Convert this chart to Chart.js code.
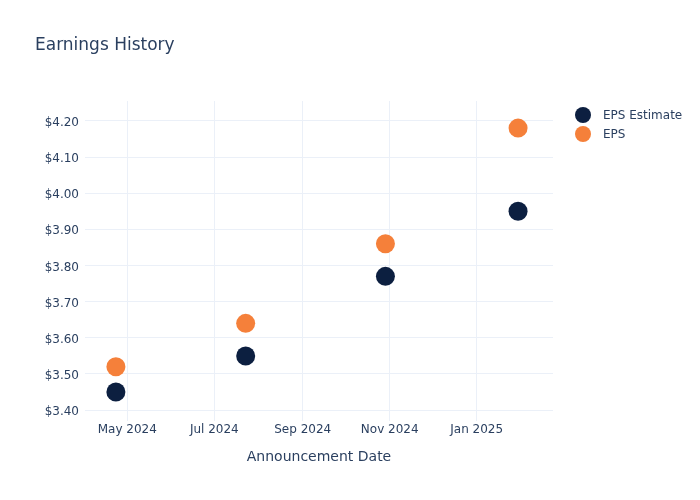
<!DOCTYPE html>
<html>
<head>
<meta charset="utf-8">
<script src="https://cdn.jsdelivr.net/npm/chart.js@4.4.1/dist/chart.umd.min.js"></script>
<style>
    html, body { margin: 0; padding: 0; background: #fff; }
</style>
</head>
<body>
<canvas id="earningsChart" width="700" height="500"></canvas>
<script>
// Chart data
const announceDates = ["2024-04-23", "2024-07-23", "2024-10-29", "2025-01-30"];
const epsEstimate = [3.45, 3.55, 3.77, 3.95];
const epsActual = [3.52, 3.64, 3.86, 4.18];
const seriesNames = ["EPS Estimate", "EPS"];
const xTickDates = ["2024-05-01", "2024-07-01", "2024-09-01", "2024-11-01", "2025-01-01"];
const yTickValues = [3.4, 3.5, 3.6, 3.7, 3.8, 3.9, 4.0, 4.1, 4.2];

const monthNames = ["Jan", "Feb", "Mar", "Apr", "May", "Jun", "Jul", "Aug", "Sep", "Oct", "Nov", "Dec"];
const textColor = "#2a3f5f";
const gridColor = "#ebf0f8";
const colors = ["#0c1f40", "#f5803a"];

const toPoints = (vals) => vals.map((v, i) => ({ x: Date.parse(announceDates[i]), y: v }));

// Format a timestamp like "May 2024"
const fmtMonth = (ts) => {
    const d = new Date(ts);
    return monthNames[d.getUTCMonth()] + " " + d.getUTCFullYear();
};

// Title + legend drawn by hand to sit where the reference puts them
const headerPlugin = {
    id: "header",
    afterDraw(chart) {
        const ctx = chart.ctx;
        ctx.save();
        ctx.fillStyle = textColor;
        ctx.font = "17px 'DejaVu Sans', sans-serif";
        ctx.textBaseline = "middle";
        ctx.textAlign = "left";
        ctx.fillText("Earnings History", 35, 46);

        ctx.font = "12px 'DejaVu Sans', sans-serif";
        seriesNames.forEach((name, i) => {
            const y = 115 + i * 19;
            ctx.beginPath();
            ctx.arc(583, y, 8, 0, Math.PI * 2);
            ctx.fillStyle = colors[i];
            ctx.fill();
            ctx.fillStyle = textColor;
            ctx.fillText(name, 603, y + 1);
        });
        ctx.restore();
    },
};

Chart.defaults.font.family = "'DejaVu Sans', sans-serif";
Chart.defaults.color = textColor;

new Chart(document.getElementById("earningsChart"), {
    type: "scatter",
    data: {
        datasets: [
            {
                label: seriesNames[0],
                data: toPoints(epsEstimate),
                backgroundColor: colors[0],
                borderWidth: 0,
                pointRadius: 9.5,
                pointHoverRadius: 10,
            },
            {
                label: seriesNames[1],
                data: toPoints(epsActual),
                backgroundColor: colors[1],
                borderWidth: 0,
                pointRadius: 9.5,
                pointHoverRadius: 10,
            },
        ],
    },
    options: {
        responsive: false,
        animation: false,
        layout: { padding: { top: 101, right: 147, left: 0, bottom: 0 } },
        plugins: {
            legend: { display: false },
            title: { display: false },
            tooltip: {
                callbacks: {
                    label: (c) => c.dataset.label + ": $" + c.parsed.y.toFixed(2) + " (" + fmtMonth(c.parsed.x) + ")",
                },
            },
        },
        scales: {
            x: {
                type: "linear",
                min: Date.UTC(2024, 3, 1, 8),
                max: Date.UTC(2025, 1, 23, 12),
                grid: { color: gridColor, drawTicks: false },
                border: { display: false },
                afterBuildTicks: (scale) => {
                    scale.ticks = xTickDates.map((d) => ({ value: Date.parse(d) }));
                },
                afterFit: (scale) => {
                    scale.height = 79;
                },
                ticks: {
                    autoSkip: false,
                    maxRotation: 0,
                    padding: 2,
                    font: { size: 12 },
                    callback: (v) => fmtMonth(v),
                },
                title: {
                    display: true,
                    text: "Announcement Date",
                    color: textColor,
                    font: { size: 14 },
                    padding: { top: 0, bottom: 34 },
                },
            },
            y: {
                min: 3.37,
                max: 4.255,
                grid: { color: gridColor, drawTicks: false },
                border: { display: false },
                afterBuildTicks: (scale) => {
                    scale.ticks = yTickValues.map((v) => ({ value: v }));
                },
                afterFit: (scale) => {
                    scale.width = 85;
                },
                ticks: {
                    padding: 6,
                    labelOffset: 2,
                    font: { size: 12 },
                    callback: (v) => "$" + v.toFixed(2),
                },
            },
        },
    },
    plugins: [headerPlugin],
});
</script>
</body>
</html>
